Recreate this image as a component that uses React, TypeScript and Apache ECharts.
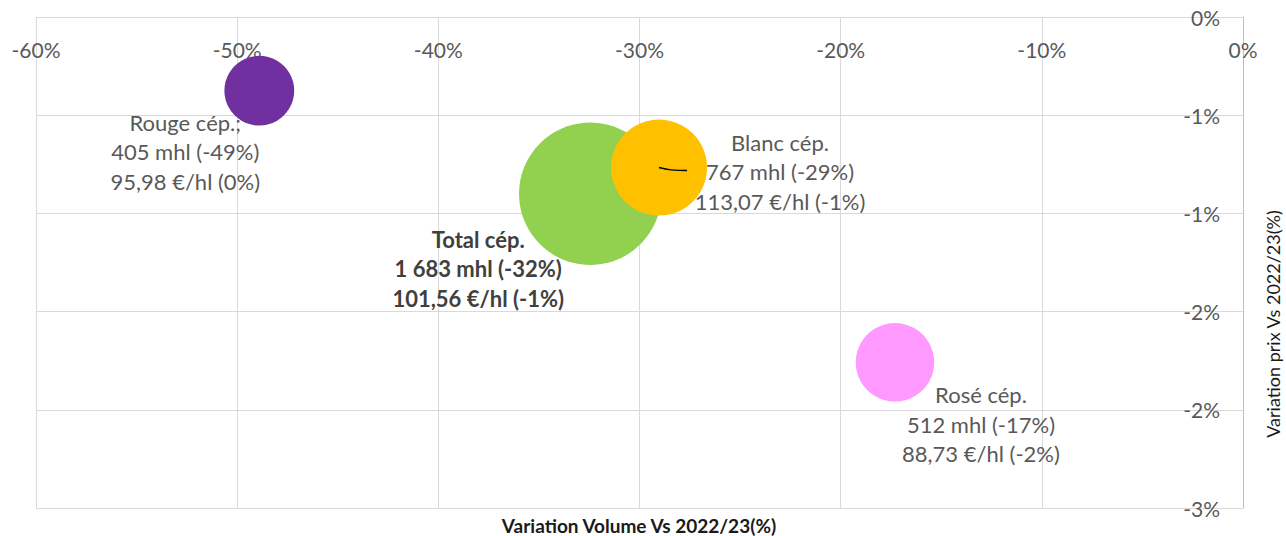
import React, { useEffect, useRef } from "react";
import * as echarts from "echarts";

// ---- data ----
const names = ["Total cép.", "Blanc cép.", "Rouge cép.;", "Rosé cép."];
const volumeChange = [-32.45, -29.03, -48.9, -17.3]; // x (%)
const priceChange = [-1.08, -0.92, -0.45, -2.11]; // y (%)
const volumes = [1683, 767, 405, 512]; // mhl (bubble size)
const volumeLabels = ["1 683", "767", "405", "512"];
const volumePct = [-32, -29, -49, -17];
const prices = ["101,56", "113,07", "95,98", "88,73"];
const pricePct = [-1, -1, 0, -2];
const xTicks = { min: -60, max: 0, interval: 10 };
const yTicks = { min: -3, max: 0, interval: 0.6 };

// ---- styles / layout ----
const colors = ["#92D050", "#FFC000", "#7030A0", "#FF99FF"];
const labelOffsets = [
  [-112, 75],
  [121, 4],
  [-74, 61],
  [86, 62],
];
const boldLabel = [true, false, false, false];
const FONT = "Lato, 'Open Sans', sans-serif";

export default function App() {
  const ref = useRef<HTMLDivElement>(null);
  useEffect(() => {
    if (!ref.current) return;
    const chart = echarts.init(ref.current, null, { renderer: "svg" });
    const data = names.map((n, i) => ({
      name: n,
      value: [volumeChange[i], priceChange[i], volumes[i]],
      itemStyle: { color: colors[i], opacity: 1 },
      label: {
        show: true,
        position: "inside",
        offset: labelOffsets[i],
        align: "center",
        verticalAlign: "middle",
        fontFamily: FONT,
        fontSize: 22,
        lineHeight: 29.5,
        fontWeight: boldLabel[i] ? "bold" : "normal",
        color: boldLabel[i] ? "#404040" : "#595959",
        formatter: () =>
          `${n}\n${volumeLabels[i]} mhl (${volumePct[i]}%)\n${prices[i]} €/hl (${pricePct[i]}%)`,
      },
    }));
    const fmtPct = (v: number) => {
      const r = Math.round(Math.abs(v));
      return r === 0 ? "0%" : (v < 0 ? "-" : "") + r + "%";
    };
    chart.setOption({
      animation: false,
      backgroundColor: "#ffffff",
      grid: { left: 36, right: 43, top: 17, bottom: 28, containLabel: false },
      xAxis: {
        type: "value",
        position: "top",
        min: xTicks.min,
        max: xTicks.max,
        interval: xTicks.interval,
        axisLine: { show: true, lineStyle: { color: "#D9D9D9", width: 1 } },
        axisTick: { show: false },
        splitLine: { show: true, lineStyle: { color: "#D9D9D9", width: 1 } },
        axisLabel: {
          inside: true,
          margin: 22,
          fontFamily: FONT,
          fontSize: 21,
          color: "#595959",
          showMinLabel: true,
          showMaxLabel: true,
          formatter: (v: number) => fmtPct(v),
        },
      },
      yAxis: {
        type: "value",
        position: "right",
        min: yTicks.min,
        max: yTicks.max,
        interval: yTicks.interval,
        axisLine: { show: true, lineStyle: { color: "#BFBFBF", width: 1 } },
        axisTick: { show: false },
        splitLine: { show: true, lineStyle: { color: "#D9D9D9", width: 1 } },
        axisLabel: {
          inside: true,
          margin: 23,
          fontFamily: FONT,
          fontSize: 21,
          color: "#595959",
          showMinLabel: true,
          showMaxLabel: true,
          formatter: (v: number) => fmtPct(v),
        },
      },
      series: [
        {
          type: "scatter",
          data,
          symbol: "circle",
          symbolSize: (val: number[]) => 2 * 1.735 * Math.sqrt(val[2]),
          emphasis: { disabled: true },
        },
      ],
      graphic: [
        {
          type: "text",
          x: 639,
          y: 516,
          style: {
            text: "Variation Volume Vs 2022/23(%)",
            fontFamily: FONT,
            fontSize: 19,
            fontWeight: "bold",
            fill: "#1a1a1a",
            align: "center",
            verticalAlign: "top",
          },
        },
        {
          type: "text",
          x: 1273,
          y: 324,
          rotation: Math.PI / 2,
          style: {
            text: "Variation prix Vs 2022/23(%)",
            fontFamily: FONT,
            fontSize: 18,
            fill: "#1a1a1a",
            align: "center",
            verticalAlign: "middle",
          },
        },
      ],
    });
    // small leader line inside the Blanc bubble
    const p = chart.convertToPixel({ seriesIndex: 0 }, [volumeChange[1], priceChange[1]]) as number[];
    chart.setOption({
      graphic: [
        {},
        {},
        {
          type: "polyline",
          shape: {
            points: [
              [p[0], p[1]],
              [p[0] + 12, p[1] + 2.3],
              [p[0] + 28, p[1] + 3],
            ],
            smooth: 0.4,
          },
          style: { stroke: "#000", lineWidth: 1.5, fill: null },
          z: 10,
        },
      ],
    });
    return () => chart.dispose();
  }, []);
  return (
    <div
      ref={ref}
      style={{ position: "fixed", left: 0, top: 0, width: 1286, height: 536 }}
    />
  );
}
